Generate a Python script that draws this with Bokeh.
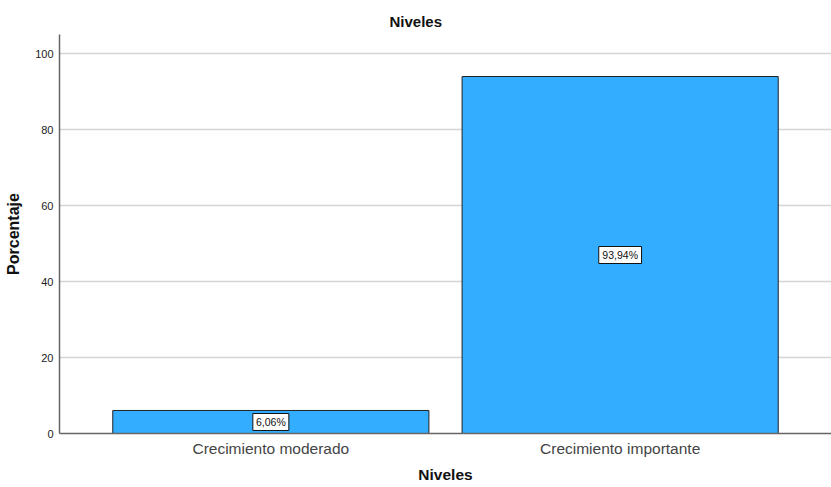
from bokeh.plotting import figure
from bokeh.models import FactorRange, Range1d, ColumnDataSource, FixedTicker, Title
from bokeh.core.properties import value
from bokeh.embed import file_html
from bokeh.resources import INLINE

categories = ["Crecimiento moderado", "Crecimiento importante"]
values = [6.06, 93.94]
value_labels = ["6,06%", "93,94%"]
y_ticks = [0, 20, 40, 60, 80, 100]

FONT = "Liberation Sans"

src = ColumnDataSource(dict(
    cat=categories,
    val=values,
    mid=[v / 2 for v in values],
    lab=value_labels,
    boxw=[6.8 * len(s) + 2 for s in value_labels],
))

p = figure(
    width=831, height=487,
    x_range=FactorRange(*categories, range_padding=0.105, range_padding_units="absolute"),
    y_range=Range1d(0, 105),
    output_backend="svg", toolbar_location=None,
    min_border_left=59, min_border_right=0, min_border_top=34, min_border_bottom=54,
    title="Niveles",
)
p.outline_line_color = None
p.background_fill_color = "white"
p.border_fill_color = "white"

p.title.align = "left"
p.title.offset = 330
p.title.text_font = FONT
p.title.text_font_size = "15px"
p.title.text_font_style = "bold"
p.title.text_color = "#111111"

p.vbar(x="cat", top="val", width=0.905, source=src,
       fill_color="#33adff", line_color="#222222", line_width=1)

p.rect(x="cat", y="mid", width="boxw", height=17, width_units="screen",
       height_units="screen", source=src, fill_color="white",
       line_color="#111111", line_width=1)
p.text(x="cat", y="mid", text="lab", source=src, text_align="center",
       text_baseline="middle", text_font=value(FONT), text_font_size="10.5px",
       text_color="#111111")

# grid
p.xgrid.grid_line_color = None
p.ygrid.grid_line_color = "#d4d4d4"
p.ygrid.grid_line_width = 1.5
p.yaxis.ticker = FixedTicker(ticks=y_ticks)

# y axis
p.yaxis.axis_label = "Porcentaje"
p.yaxis.axis_label_text_font = FONT
p.yaxis.axis_label_text_font_size = "16px"
p.yaxis.axis_label_text_font_style = "bold"
p.yaxis.axis_label_text_color = "#111111"
p.yaxis.axis_label_standoff = 10
p.yaxis.major_label_text_font = FONT
p.yaxis.major_label_text_font_size = "11px"
p.yaxis.major_label_text_color = "#222222"
p.yaxis.major_tick_out = 0
p.yaxis.major_tick_in = 0
p.yaxis.minor_tick_out = 0
p.yaxis.minor_tick_in = 0
p.yaxis.major_label_standoff = 6
p.yaxis.axis_line_color = "#666666"
p.yaxis.axis_line_width = 1.5

# x axis
p.xaxis.major_label_text_font = FONT
p.xaxis.major_label_text_font_size = "15.5px"
p.xaxis.major_label_text_color = "#444444"
p.xaxis.major_label_standoff = 6
p.xaxis.major_tick_out = 0
p.xaxis.major_tick_in = 0
p.xaxis.axis_line_color = "#666666"
p.xaxis.axis_line_width = 1.5

xtitle = Title(text="Niveles", align="center", standoff=8,
               text_font=FONT, text_font_size="15.5px", text_font_style="bold",
               text_color="#111111")
p.add_layout(xtitle, "below")

open("out.html", "w").write(file_html(p, INLINE))
